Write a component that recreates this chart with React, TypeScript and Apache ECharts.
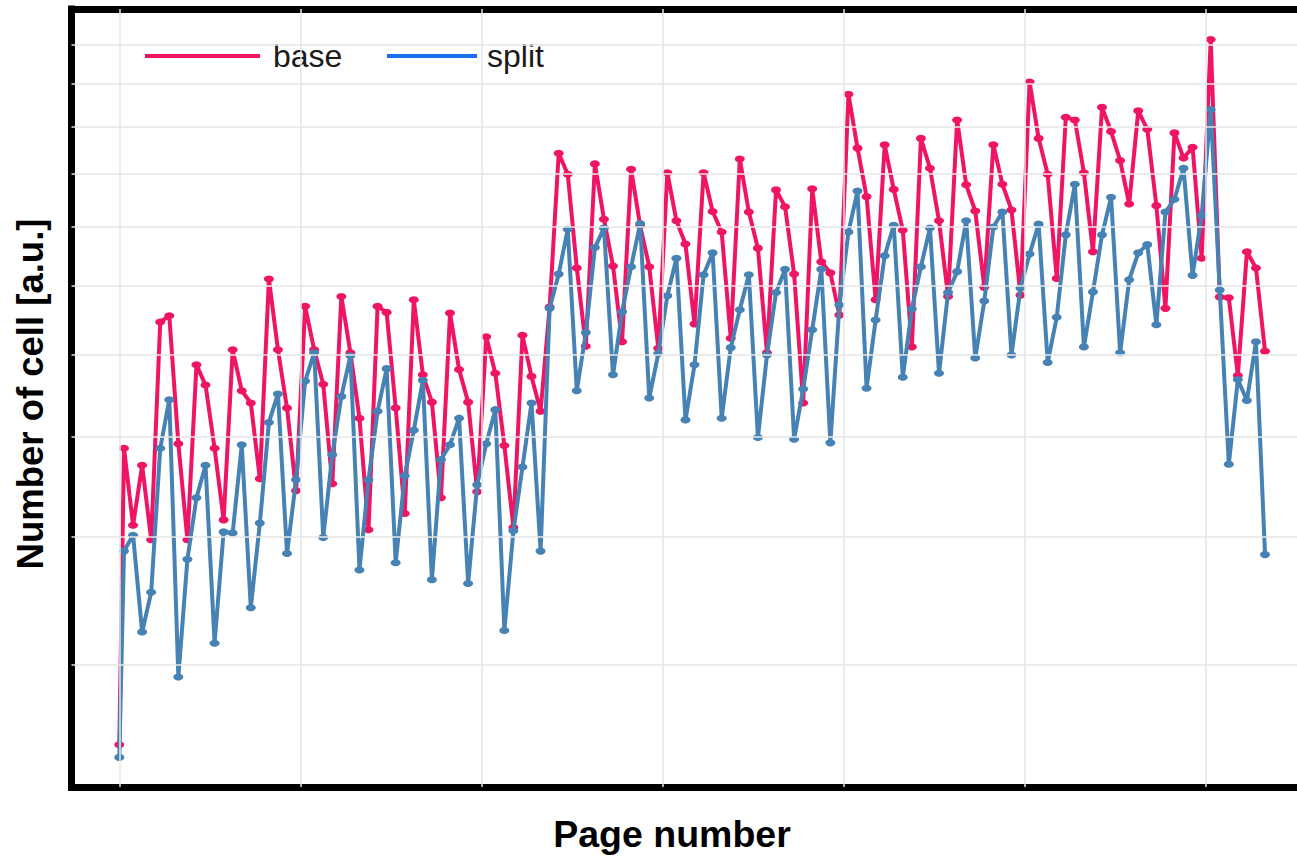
import React, { useEffect, useRef } from "react";
import * as echarts from "echarts";

// Number of cells per page (arbitrary units, log-scaled axis)
const base = [
  2.51, 4.87, 4.10, 4.69, 3.97, 6.46, 6.55, 4.92, 3.97, 5.87,
  5.61, 4.87, 4.15, 6.07, 5.54, 5.39, 4.55, 7.11, 6.07, 5.33,
  4.43, 6.69, 6.07, 5.62, 4.50, 6.84, 6.03, 5.21, 4.06, 6.69,
  6.60, 5.33, 4.21, 6.79, 5.74, 5.40, 4.36, 6.59, 5.81, 5.40,
  4.42, 6.25, 5.76, 4.90, 4.08, 6.27, 5.72, 5.29, 6.68, 9.42,
  8.99, 7.29, 6.12, 9.20, 8.13, 7.32, 6.18, 9.09, 8.01, 7.31,
  6.09, 9.02, 8.10, 7.69, 6.43, 9.02, 8.27, 7.90, 6.23, 9.30,
  8.26, 7.62, 6.03, 8.68, 8.36, 7.19, 5.39, 8.70, 7.39, 7.21,
  6.56, 10.75, 9.53, 8.55, 6.79, 9.60, 8.69, 7.93, 6.11, 9.74,
  9.11, 8.10, 6.84, 10.15, 8.78, 8.28, 6.98, 9.60, 8.79, 8.30,
  6.86, 11.05, 9.74, 8.99, 7.12, 10.21, 10.15, 9.02, 7.56, 10.44,
  9.89, 9.27, 8.41, 10.36, 9.94, 8.38, 6.66, 9.86, 9.32, 9.55,
  7.45, 12.15, 6.83, 6.82, 5.73, 7.56, 7.29, 6.05,
];

const split = [
  2.44, 3.87, 4.01, 3.23, 3.53, 4.87, 5.43, 2.92, 3.80, 4.36,
  4.69, 3.15, 4.04, 4.03, 4.91, 3.41, 4.12, 5.16, 5.50, 3.85,
  4.54, 5.66, 6.03, 3.99, 4.80, 5.47, 5.99, 3.71, 4.54, 5.29,
  5.82, 3.77, 4.58, 5.07, 5.67, 3.63, 4.75, 4.91, 5.21, 3.60,
  4.49, 4.92, 5.31, 3.24, 4.05, 4.67, 5.39, 3.87, 6.66, 7.19,
  7.95, 5.54, 6.31, 7.63, 7.97, 5.74, 6.61, 7.31, 8.05, 5.45,
  6.02, 6.85, 7.45, 5.19, 5.87, 7.18, 7.54, 5.21, 6.10, 6.64,
  7.18, 4.99, 6.00, 6.90, 7.27, 4.97, 5.56, 6.35, 7.27, 4.93,
  6.71, 7.90, 8.66, 5.57, 6.49, 7.49, 8.02, 5.71, 6.65, 7.31,
  7.97, 5.76, 6.90, 7.23, 8.10, 5.96, 6.77, 7.99, 8.26, 6.00,
  6.97, 7.52, 8.04, 5.90, 6.53, 7.85, 8.79, 6.11, 6.91, 7.85,
  8.54, 6.03, 7.10, 7.54, 7.68, 6.42, 8.26, 8.50, 9.11, 7.17,
  8.20, 10.39, 6.94, 4.70, 5.68, 5.42, 6.18, 3.84,
];

// page position of each sample (first sample sits on page 0, the rest are page mid-points)
const pageX = base.map((_, i) => (i === 0 ? 0 : i - 0.48));

const gridPages = [0, 20, 40, 60, 80, 100, 120];
const gridLevels = [3, 4, 5, 6, 7, 8, 9, 10, 11, 12];

const PINK = "#f01464";
const BLUE = "#4682b4";
const LEGEND_BLUE = "#1a6ef0";
const FONT = '"Liberation Sans", Arial, sans-serif';

const X_MIN = -5.28;
const X_MAX = 130.05;

export default function App() {
  const ref = useRef<HTMLDivElement>(null);

  useEffect(() => {
    const chart = echarts.init(ref.current!, null, { renderer: "svg" });
    const legendCommon = {
      icon: "rect",
      itemHeight: 4,
      padding: 0,
      selectedMode: false,
      textStyle: { fontSize: 32, fontFamily: FONT, color: "#1a1a1a" },
    };
    const frameLine = { show: true, onZero: false, lineStyle: { color: "#000000", width: 7, cap: "square" } };
    const hidden = {
      axisTick: { show: false },
      axisLabel: { show: false },
      splitLine: { show: false },
    };
    chart.setOption({
      animation: false,
      backgroundColor: "#ffffff",
      grid: {
        left: 71.5,
        top: 9,
        bottom: 69,
        right: 0,
        show: false,
      },
      legend: [
        {
          ...legendCommon,
          data: [{ name: "base", itemStyle: { color: PINK } }],
          left: 145,
          top: 40,
          itemWidth: 115,
          textStyle: { ...legendCommon.textStyle, padding: [0, 0, 0, 8] },
        },
        {
          ...legendCommon,
          data: [{ name: "split", itemStyle: { color: LEGEND_BLUE } }],
          left: 387,
          top: 40,
          itemWidth: 90,
          textStyle: { ...legendCommon.textStyle, padding: [0, 0, 0, 5] },
        },
      ],
      xAxis: [
        {
          type: "value",
          position: "bottom",
          min: X_MIN,
          max: X_MAX,
          axisLine: frameLine,
          ...hidden,
        },
        {
          type: "value",
          position: "top",
          min: X_MIN,
          max: X_MAX,
          axisLine: frameLine,
          ...hidden,
        },
      ],
      yAxis: {
        type: "log",
        logBase: 10,
        min: 2.2836,
        max: 13.008,
        axisLine: frameLine,
        ...hidden,
        minorSplitLine: { show: false },
      },
      series: [
        {
          name: "grid",
          type: "line",
          data: [],
          z: 1,
          silent: true,
          markLine: {
            silent: true,
            symbol: ["none", "none"],
            label: { show: false },
            lineStyle: { color: "#e6e6e6", width: 1.5, type: "solid" },
            emphasis: { disabled: true },
            data: [
              ...gridPages.map((p) => ({ xAxis: p })),
              ...gridLevels.map((v) => ({ yAxis: v })),
            ],
          },
        },
        {
          name: "base",
          type: "line",
          z: 3,
          data: base.map((v, i) => [pageX[i], v]),
          lineStyle: { color: PINK, width: 4 },
          itemStyle: { color: PINK },
          symbol: "circle",
          symbolSize: [10, 7],
          showSymbol: true,
        },
        {
          name: "split",
          type: "line",
          z: 4,
          data: split.map((v, i) => [pageX[i], v]),
          lineStyle: { color: BLUE, width: 4 },
          itemStyle: { color: BLUE },
          symbol: "circle",
          symbolSize: [10, 7],
          showSymbol: true,
        },
      ],
      graphic: [
        {
          type: "text",
          x: 672,
          y: 834,
          style: {
            text: "Page number",
            font: `bold 37.5px ${FONT}`,
            fill: "#000000",
            align: "center",
            verticalAlign: "middle",
            textAlign: "center",
            textVerticalAlign: "middle",
          },
        },
        {
          type: "text",
          x: 30.5,
          y: 394,
          rotation: Math.PI / 2,
          style: {
            text: "Number of cell [a.u.]",
            font: `bold 36.5px ${FONT}`,
            fill: "#000000",
            align: "center",
            verticalAlign: "middle",
            textAlign: "center",
            textVerticalAlign: "middle",
          },
        },
      ],
    });
    return () => chart.dispose();
  }, []);

  return (
    <div
      ref={ref}
      style={{ position: "absolute", left: 0, top: 0, width: 1297, height: 856, background: "#ffffff" }}
    />
  );
}
